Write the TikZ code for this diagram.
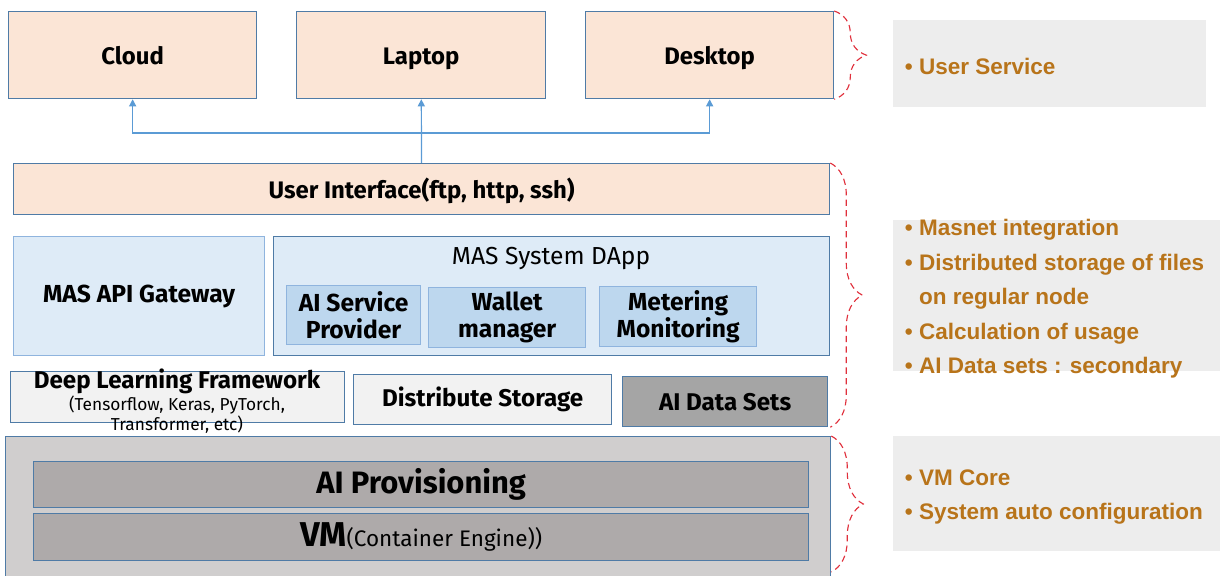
\documentclass[tikz,border=0pt]{standalone}
\usepackage{fontspec}
\setmainfont{Fira Sans}
\newfontfamily\notefont{Liberation Sans}
\usetikzlibrary{arrows.meta}
\usetikzlibrary{decorations.pathreplacing}
\definecolor{peach}{HTML}{FBE5D6}
\definecolor{frame}{HTML}{4F7BA6}
\definecolor{paleblue}{HTML}{DEEBF7}
\definecolor{midblue}{HTML}{BDD7EE}
\definecolor{softframe}{HTML}{8FB4DE}
\definecolor{lightgrey}{HTML}{F2F2F2}
\definecolor{darkgrey}{HTML}{A5A5A5}
\definecolor{basegrey}{HTML}{D0CECE}
\definecolor{coregrey}{HTML}{AEAAAA}
\definecolor{notegrey}{HTML}{EDEDED}
\definecolor{notetext}{HTML}{B8741A}
\definecolor{arrowblue}{HTML}{5B9BD5}
\definecolor{bracered}{HTML}{E0303C}
\tikzset{
    % Small filled triangles for the fan-out arrows
    >={Triangle[width=5pt,length=5pt]},
    every node/.style={align=center},
%
    % Boxes are placed by their top left corner, sizes in pixels
    box size/.style 2 args={anchor=north west, inner sep=0pt,
        minimum width=#1*0.025cm, minimum height=#2*0.025cm},
%
    % Box fills
    peach box/.style={draw=frame, line width=0.9pt, fill=peach,
        text height=13.5pt, text depth=0.5pt,
        font=\bfseries\fontsize{17}{20}\selectfont},
    pale box/.style={line width=0.9pt, fill=paleblue,
        font=\bfseries\fontsize{17.5}{20}\selectfont},
    module box/.style={draw=softframe, line width=0.9pt, fill=midblue,
        font=\bfseries\fontsize{17.5}{19.5}\selectfont},
    light box/.style={draw=frame, line width=0.9pt, fill=lightgrey,
        font=\bfseries\fontsize{17.2}{20}\selectfont},
    dark box/.style={draw=frame, line width=0.9pt, fill=darkgrey,
        font=\bfseries\fontsize{17.2}{20}\selectfont},
    core box/.style={draw=frame, line width=0.9pt, fill=coregrey,
        font=\bfseries\fontsize{22}{25}\selectfont},
%
    % Notes on the right
    note fill/.style={fill=notegrey},
    note text/.style={anchor=west, align=left, text=notetext,
        font=\notefont\bfseries\fontsize{16}{24.5}\selectfont},
%
    % Lines
    link/.style={draw=arrowblue, line width=0.85pt},
    brace/.style={draw=bracered, dash pattern=on 4.5pt off 3pt,
        line width=0.8pt, decorate, decoration={brace, amplitude=8mm}},
}

\begin{document}
\begin{tikzpicture}[x=0.025cm, y=-0.025cm]
\useasboundingbox (0,0) rectangle (1220,576);

% user devices
\node [peach box, box size={248}{87}] (cloud) at (8,11) {Cloud};
\node [peach box, box size={249}{87}] (laptop) at (296,11) {Laptop};
\node [peach box, box size={248}{87}] (desktop) at (585,11) {Desktop};

\node [peach box, box size={816}{51}] (ui) at (13,163)
    {User Interface(ftp, http, ssh)};

% middle layer
\node [pale box, draw=softframe, box size={251}{119}] (gateway) at (13,236)
    {MAS API Gateway};
\node [pale box, draw=frame, box size={556}{119}] (dapp) at (273,236) {};
\node [font=\fontsize{17.5}{20}\selectfont] (dapp title) at (551,258)
    {MAS System DApp};
\node [module box, box size={134}{59}] (provider) at (286,285)
    {AI Service\\Provider};
\node [module box, box size={157}{60}] (wallet) at (428,287)
    {Wallet\\manager};
\node [module box, box size={157}{60}] (metering) at (599,286)
    {Metering\\Monitoring};

\node [light box, box size={334}{51}] (framework) at (10,371) {};
\node [font=\fontsize{12.3}{14.2}\selectfont] (framework text) at (177,401)
    {{\bfseries\fontsize{17.2}{17}\selectfont Deep Learning Framework}\\
     (Tensorflow, Keras, PyTorch,\\Transformer, etc)};
\node [light box, box size={258}{50}] (storage) at (353,374)
    {Distribute Storage};
\node [dark box, box size={205}{50}] (datasets) at (622,376)
    {AI Data Sets};

% bottom layer
\node [core box, fill=basegrey, box size={825}{154}] (base) at (5,436) {};
\node [core box, box size={775}{46}] (provisioning) at (33,461)
    {AI Provisioning};
\node [core box, box size={775}{47}] (vm) at (33,513)
    {{\fontsize{24.5}{26}\selectfont VM}{\mdseries\fontsize{16}{18}\selectfont(Container Engine))}};

% fan-out to the devices
\coordinate (fork) at (421,133);
\draw [link, ->] (ui) -- (laptop);
\draw [link, ->] (fork) -| (cloud);
\draw [link, ->] (fork) -| (desktop);

% braces and notes
\draw [brace] (desktop.north east) -- (desktop.south east);
\draw [brace] (ui.north east) -- (ui.east |- datasets.south);
\draw [brace] (base.north east) -- (base.east |- 0,572);

\node [note fill, box size={313}{87}] (service note) at (893,20) {};
\node [note text] (service text) at (900,66) {\textbullet\ User Service};

\node [note fill, box size={327}{151}] (layer note) at (893,220) {};
\node [note text] (layer text) at (900,299)
    {\textbullet\ Masnet integration\\
     \textbullet\ Distributed storage of files\\
     \hphantom{\textbullet\ }on regular node\\
     \textbullet\ Calculation of usage\\
     \textbullet\ AI Data sets : secondary};

\node [note fill, box size={327}{115}] (core note) at (893,436) {};
\node [note text] (core text) at (900,497)
    {\textbullet\ VM Core\\
     \textbullet\ System auto configuration};

\end{tikzpicture}
\end{document}
